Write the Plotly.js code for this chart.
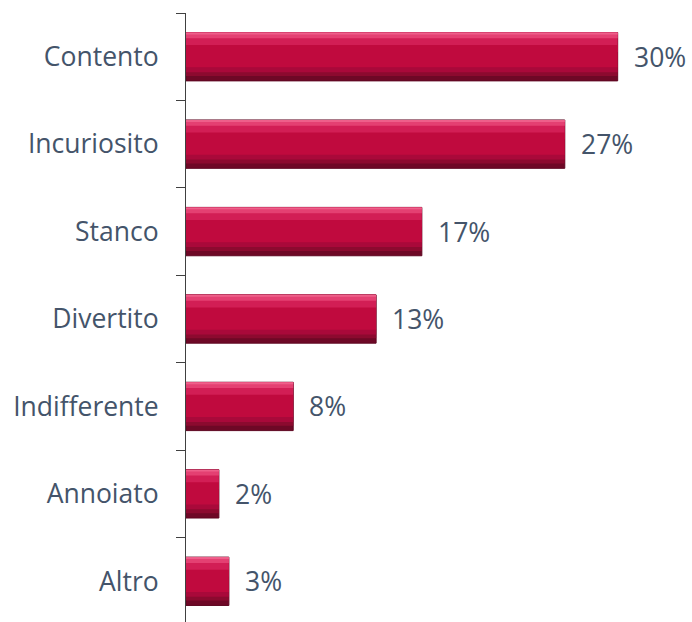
<!DOCTYPE html>
<html>
<head>
<meta charset="utf-8">
<script src="https://cdn.plot.ly/plotly-3.0.1.min.js"></script>
<style>
html, body { margin:0; padding:0; overflow:hidden; background:#fff; }
#chart { width:692px; height:625px; }
</style>
</head>
<body>
<div id="chart"></div>
<script>
// Data
var categories = ['Contento', 'Incuriosito', 'Stanco', 'Divertito', 'Indifferente', 'Annoiato', 'Altro'];
var values = [30.2, 26.5, 16.5, 13.3, 7.5, 2.3, 3.0];
var valueLabels = ['30%', '27%', '17%', '13%', '8%', '2%', '3%'];

var W = 0.553;            // bar thickness in category units
var textColor = '#44546A';
var fontFamily = '"Open Sans", "Noto Sans", Arial, sans-serif';

function band(color, fromFrac, sizeFrac, line) {
  return {
    type: 'bar', orientation: 'h',
    y: categories, x: values,
    width: W * sizeFrac,
    offset: -W / 2 + W * fromFrac,
    marker: { color: color, line: line || { width: 0 } },
    hoverinfo: 'skip', showlegend: false, cliponaxis: false
  };
}

var traces = [
  band('#6E0826', 0, 1, { color: '#5E0620', width: 1 }),   // dark base (bottom/right shade)
  band('#8C0A2F', 0, 0.90),                                // lower bevel gradient
  band('#D21E55', 0, 0.40),                                // upper bevel
  band('#E44072', 0, 0.12),                                // upper bevel lighter
  band('#EE5F8A', 0, 0.04),                                // top highlight line
  band('#A9093A', 0.70, 0.12),                             // lower bevel transition
  band('#C00A3E', 0.26, 0.46)                              // flat face
];

var annotations = categories.map(function (c, i) {
  return {
    x: values[i], y: c, xref: 'x', yref: 'y',
    text: valueLabels[i], showarrow: false,
    xanchor: 'left', yanchor: 'middle', xshift: 14,
    font: { family: fontFamily, size: 26.5, color: textColor }
  };
});

var layout = {
  width: 692, height: 625,
  margin: { l: 186, r: 20, t: 13, b: 0, pad: 0 },
  paper_bgcolor: '#ffffff', plot_bgcolor: '#ffffff',
  barmode: 'overlay',
  showlegend: false,
  xaxis: { range: [0, 34], visible: false, fixedrange: true },
  yaxis: {
    type: 'category',
    categoryorder: 'array', categoryarray: categories,
    range: [6.5, -0.5],
    showgrid: false, zeroline: false,
    showline: true, linecolor: '#404040', linewidth: 1,
    ticks: 'outside', tickson: 'boundaries', ticklen: 9, tickwidth: 1, tickcolor: '#404040',
    ticklabelstandoff: 21,
    tickfont: { family: fontFamily, size: 26.5, color: textColor },
    fixedrange: true
  },
  annotations: annotations
};

Plotly.newPlot('chart', traces, layout, { displayModeBar: false, staticPlot: true });
</script>
</body>
</html>
